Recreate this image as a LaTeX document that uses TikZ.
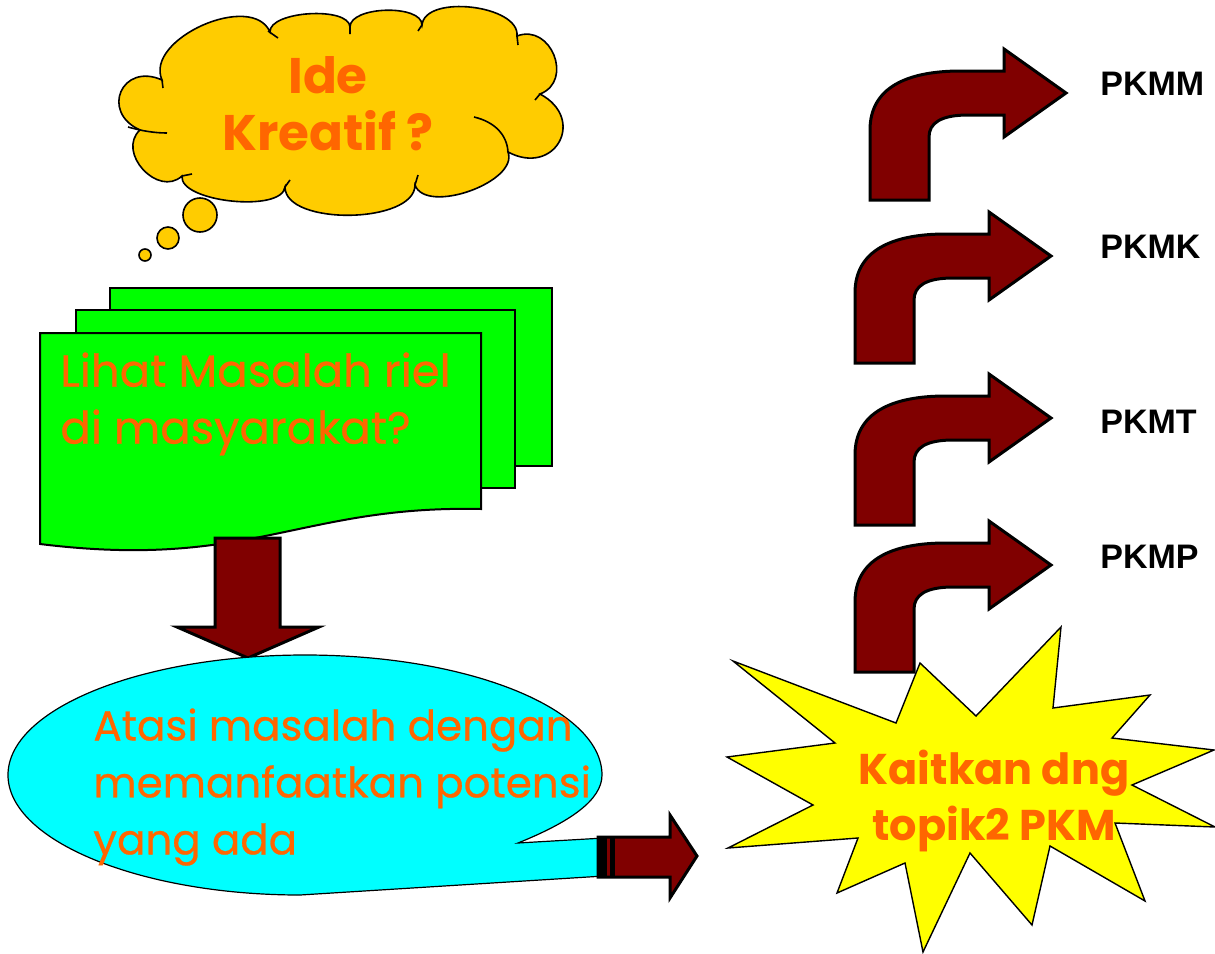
\documentclass[tikz,border=0pt]{standalone}
\usepackage{fontspec}
\newfontfamily\comicfont{Poppins}
\newfontfamily\comicthick{Poppins}[FakeBold=0.6]
\newfontfamily\arialfont{Liberation Sans}

\definecolor{ideorange}{HTML}{FF6600}
\definecolor{cloudyellow}{HTML}{FFCC00}
\definecolor{pagegreen}{HTML}{00FF00}
\definecolor{blobcyan}{HTML}{00FFFF}
\definecolor{staryellow}{HTML}{FFFF00}
\definecolor{arrowred}{HTML}{800000}

\begin{document}
\begin{tikzpicture}[x=0.5pt,y=-0.5pt]
    \tikzstyle{every node}=[inner sep=0pt]
    \tikzstyle{fat}=[draw=black,line width=1.5pt,fill=arrowred,line join=miter]
    \tikzstyle{talk}=[font=\comicthick\fontsize{21}{28.5}\selectfont,text=ideorange,align=left,anchor=north west]
    \tikzstyle{shout}=[font=\comicfont\bfseries\fontsize{21.5}{28}\selectfont,text=ideorange,align=center,anchor=north]
    \tikzstyle{pkm}=[font=\arialfont\bfseries\fontsize{17}{20}\selectfont,anchor=west]
    \useasboundingbox (0,0) rectangle (1215,953);

    % thought cloud
    \draw[fill=cloudyellow,line width=0.8pt] (162,80) .. controls (144,39) and (252,-9) .. (270,32)
      .. controls (269,11) and (349,6) .. (350,27)
      .. controls (350,6) and (422,4) .. (422,25)
      .. controls (425,-6) and (520,5) .. (517,36)
      .. controls (551,23) and (574,81) .. (540,94)
      .. controls (587,119) and (555,177) .. (508,152)
      .. controls (519,182) and (426,215) .. (415,185)
      .. controls (415,224) and (285,226) .. (285,187)
      .. controls (282,213) and (179,202) .. (182,176)
      .. controls (158,198) and (116,152) .. (140,130)
      .. controls (100,112) and (122,62) .. cycle;
    \draw[line width=0.8pt] (162,80) -- (163,88) (268,31) -- (278,38) (350,27) -- (350,34)
      (422,25) -- (418,31) (517,36) -- (518,45) (540,94) -- (535,100)
      (415,185) -- (418,175) (285,187) -- (290,180) (182,176) -- (192,174)
      (474,117) .. controls (495,122) and (507,135) .. (508,152)
      (128,127) .. controls (142,131) and (155,133) .. (167,133);
    \draw[fill=cloudyellow,line width=0.8pt] (200,215) circle[radius=17];
    \draw[fill=cloudyellow,line width=0.8pt] (168,238) circle[radius=11];
    \draw[fill=cloudyellow,line width=0.8pt] (145,255) circle[radius=6];
    \node[shout,font=\comicfont\bfseries\fontsize{25}{28.5}\selectfont] (idea) at (328,56) {Ide\\Kreatif ?};

    % stacked pages
    \draw[fill=pagegreen,line width=1pt] (110,288) rectangle (552,466);
    \draw[fill=pagegreen,line width=1pt] (76,310) rectangle (515,488);
    \draw[fill=pagegreen,line width=1pt] (40,333) -- (481,333) -- (481,509)
      .. controls (300,505) and (250,570) .. (40,544) -- cycle;
    \node[talk,font=\comicthick\fontsize{22.5}{28.5}\selectfont] (masalah) at (60,352) {Lihat Masalah riel\\di masyarakat?};

    \draw[fat] (215,538) -- (280,538) -- (280,627) -- (319,627) -- (248,658)
      -- (177,627) -- (215,627) -- cycle;

    % callout
    \draw[fill=blobcyan,line width=0.6pt] (518,843) -- (604,838) -- (604,876) -- (300,895)
      .. controls (141,895) and (8,841) .. (8,775)
      .. controls (8,709) and (141,655) .. (305,655)
      .. controls (469,655) and (602,709) .. (602,775)
      .. controls (602,800) and (570,822) .. cycle;
    \node[talk] (atasi) at (93,708) {Atasi masalah dengan\\memanfaatkan potensi\\yang ada};

    \draw[fat] (598,837) -- (670,837) -- (670,815) -- (697,856) -- (670,898)
      -- (670,877) -- (598,877) -- cycle;
    \fill[black] (597,836) rectangle (607,878);
    \fill[black] (610,836) rectangle (615,878);

    % bent arrows
    \foreach \tx/\ty in {1066/93,1051/256,1051/418,1051/565}
      \draw[fat,shift={(\tx,\ty)}] (-196,107) -- (-196,37)
        .. controls (-196,-5) and (-160,-22) .. (-105,-22) -- (-62,-22) -- (-62,-44)
        -- (0,0) -- (-62,44) -- (-62,22) -- (-98,22)
        .. controls (-125,22) and (-137,30) .. (-137,44) -- (-137,107) -- cycle;

    % burst
    \draw[fill=staryellow,line width=0.7pt] (733,661) -- (896,723) -- (920,663) -- (976,716)
      -- (1061,627) -- (1053,708) -- (1150,695) -- (1112,738) -- (1214,750) -- (1132,785)
      -- (1215,827) -- (1115,823) -- (1145,901) -- (1050,846) -- (1032,925) -- (970,853)
      -- (923,952) -- (905,863) -- (837,893) -- (858,838) -- (728,848) -- (813,805)
      -- (727,757) -- (835,743) -- cycle;
    \node[shout] (kaitkan) at (994,750) {Kaitkan dng\\topik2 PKM};

    \node[pkm] (pkmm) at (1100,84) {PKMM};
    \node[pkm] (pkmk) at (1100,247) {PKMK};
    \node[pkm] (pkmt) at (1100,422) {PKMT};
    \node[pkm] (pkmp) at (1100,557) {PKMP};
\end{tikzpicture}
\end{document}
